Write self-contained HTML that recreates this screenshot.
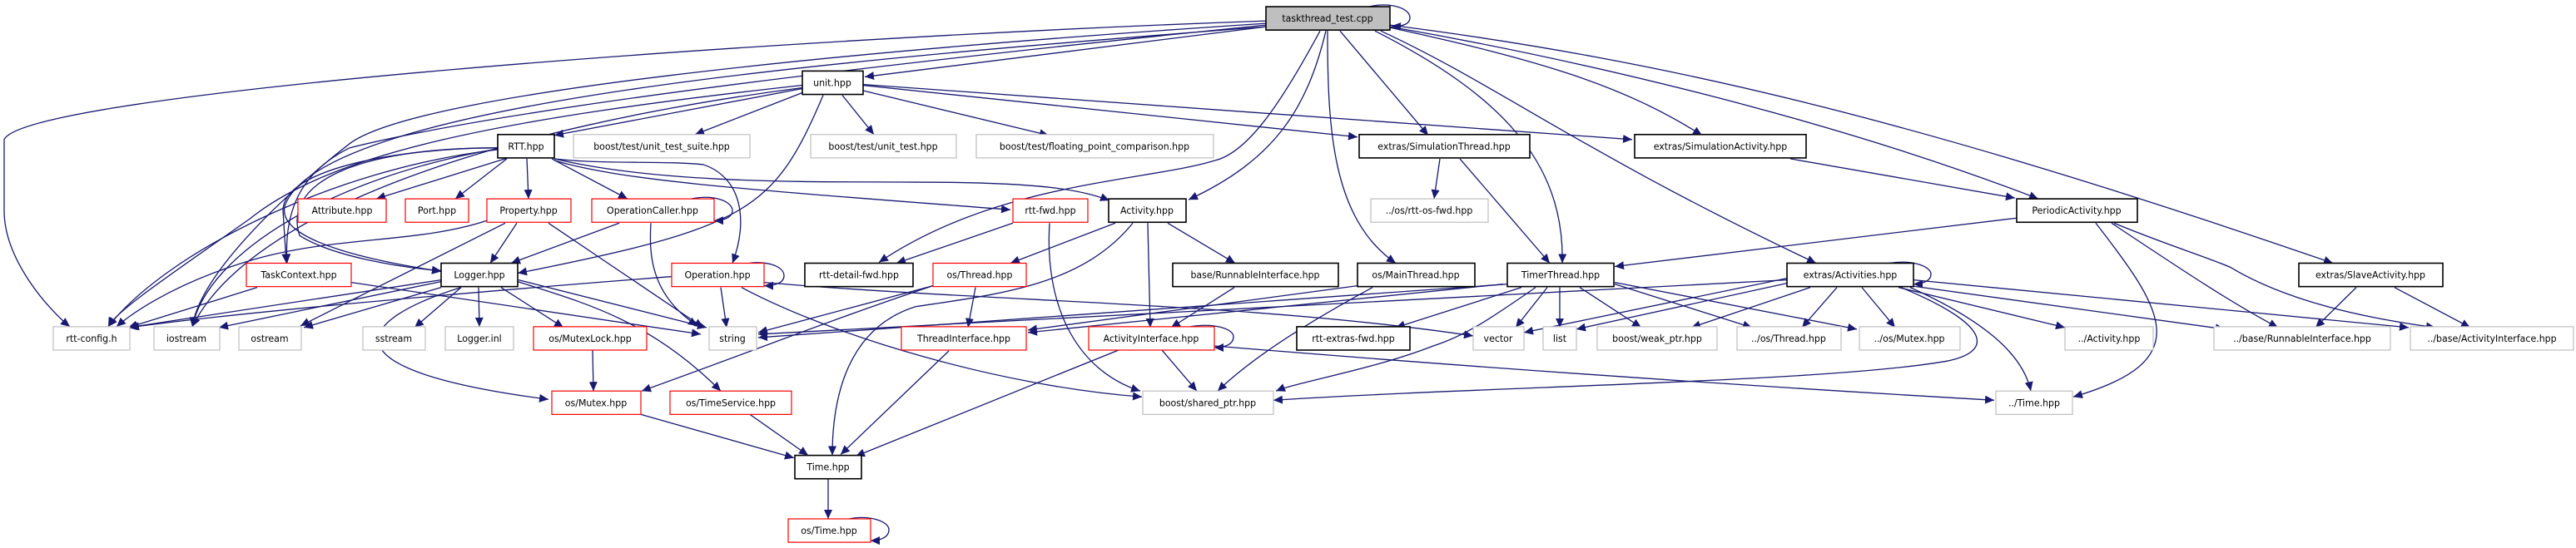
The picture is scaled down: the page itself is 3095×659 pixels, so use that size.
<!DOCTYPE html>
<html><head><meta charset="utf-8"><style>
html,body{margin:0;padding:0;background:#fff;}
svg{display:block;}
text{font-family:"DejaVu Sans","Liberation Sans",sans-serif;font-size:11px;fill:#000;text-anchor:middle;}
.e{fill:none;stroke:#191970;stroke-width:1.3;marker-end:url(#a);}
.b{fill:#fff;stroke:#000;stroke-width:1.6;}
.r{fill:#fff;stroke:#ff0000;stroke-width:1.2;}
.g{fill:#fff;stroke:#bfbfbf;stroke-width:1.2;}
</style></head><body>
<svg width="3095" height="659" viewBox="0 0 3095 659" xmlns="http://www.w3.org/2000/svg">
<defs><marker id="a" markerUnits="userSpaceOnUse" markerWidth="12" markerHeight="10" refX="11" refY="5" orient="auto"><path d="M0,0 L11,5 L0,10 z" fill="#191970"/></marker></defs>
<g transform="translate(0,2) scale(1,1.0048)">
<!-- edges -->
<path class="e" d="M1645,6 C1670,0 1694,8 1694,19 C1694,27 1685,30 1672,29"/>
<path class="e" d="M1521,30 L1039,90"/>
<path class="e" d="M1521,23 C900,45 30,110 5,165 L5,250 C5,310 60,370 84,389"/>
<path class="e" d="M1521,26 C1000,60 500,110 420,170 C330,240 240,330 231,389"/>
<path class="e" d="M1521,30 C1000,70 400,120 344,240 C320,290 480,315 530,323"/>
<path class="e" d="M1521,28 C1000,80 600,130 420,175 C370,200 340,240 345,313"/>
<path class="e" d="M1586,35 C1540,120 1500,180 1460,190 C1380,215 1200,215 1056,312"/>
<path class="e" d="M1593,35 C1570,130 1530,190 1428,237"/>
<path class="e" d="M1595,35 C1595,150 1600,260 1677,313"/>
<path class="e" d="M1610,35 L1716,160"/>
<path class="e" d="M1652,35 C1800,110 1880,190 1877,313"/>
<path class="e" d="M1659,35 C1800,100 1900,180 2182,313"/>
<path class="e" d="M1670,31 C1850,70 1950,100 2045,160"/>
<path class="e" d="M1670,30 C1900,70 2200,140 2449,236"/>
<path class="e" d="M1670,28 C2000,70 2300,140 2803,313"/>
<!-- unit -->
<path class="e" d="M964,104 L666,160"/>
<path class="e" d="M964,109 L835,159"/>
<path class="e" d="M1012,112 L1050,159"/>
<path class="e" d="M1035,106 L1260,160"/>
<path class="e" d="M1036,100 L1631,162"/>
<path class="e" d="M1036,99 L1961,165"/>
<path class="e" d="M964,100 C600,140 400,180 300,260 C200,330 140,370 130,389"/>
<path class="e" d="M964,103 C600,150 300,250 231,389"/>
<path class="e" d="M989,112 C930,250 900,270 622,325"/>
<!-- RTT -->
<path class="e" d="M610,187 L452,236"/>
<path class="e" d="M609,188 L547,236"/>
<path class="e" d="M633,188 L635,236"/>
<path class="e" d="M663,188 L754,236"/>
<path class="e" d="M598,177 C400,200 200,300 130,389"/>
<path class="e" d="M598,176 C400,210 250,300 231,389"/>
<path class="e" d="M598,175 C480,175 340,200 340,250 L344,313"/>
<path class="e" d="M598,175 C420,175 340,220 360,280 C400,305 480,318 530,322"/>
<path class="e" d="M666,188 C720,195 800,190 845,195 C890,210 900,260 880,313"/>
<path class="e" d="M666,190 C750,215 900,225 1214,249"/>
<path class="e" d="M666,188 C800,220 1000,215 1100,216 C1250,216 1300,225 1333,238"/>
<!-- Property -->
<path class="e" d="M621,265 L589,313"/>
<path class="e" d="M659,265 L845,390"/>
<path class="e" d="M585,262 C500,290 400,280 300,310 C200,340 150,380 140,389"/>
<path class="e" d="M607,265 L361,388"/>
<!-- OperationCaller -->
<path class="e" d="M830,236 C860,230 880,240 880,250 C880,258 870,262 858,262"/>
<path class="e" d="M744,265 L614,313"/>
<path class="e" d="M782,265 C780,300 780,350 838,388"/>
<!-- TaskContext -->
<path class="e" d="M309,342 L154,390"/>
<path class="e" d="M422,336 L842,398"/>
<!-- Logger -->
<path class="e" d="M530,333 L154,390"/>
<path class="e" d="M530,335 L263,390"/>
<path class="e" d="M530,342 L365,390"/>
<path class="e" d="M554,342 L498,390"/>
<path class="e" d="M575,342 L576,389"/>
<path class="e" d="M602,342 L677,390"/>
<path class="e" d="M623,333 L849,390"/>
<path class="e" d="M622,335 C700,360 780,380 866,466"/>
<path class="e" d="M554,342 C430,380 380,440 659,476"/>
<!-- Operation -->
<path class="e" d="M900,313 C925,310 942,318 942,328 C942,336 932,340 918,340"/>
<path class="e" d="M866,342 L873,390"/>
<path class="e" d="M807,329 C600,345 300,370 156,390"/>
<path class="e" d="M891,342 C1000,400 1200,460 1372,473"/>
<path class="e" d="M918,336 C1200,360 1500,360 1770,400"/>
<!-- rtt-fwd -->
<path class="e" d="M1217,265 L1077,313"/>
<path class="e" d="M1261,265 C1255,360 1290,440 1370,466"/>
<!-- Activity -->
<path class="e" d="M1340,265 L1214,313"/>
<path class="e" d="M1403,265 L1484,313"/>
<path class="e" d="M1379,265 L1382,390"/>
<path class="e" d="M1361,265 C1300,340 1200,350 1100,365 C1020,390 1000,470 1000,543"/>
<!-- os/Thread -->
<path class="e" d="M1172,342 L1163,390"/>
<path class="e" d="M1121,340 L911,396"/>
<path class="e" d="M1121,340 C1000,380 900,420 771,466"/>
<!-- base/Runnable, MainThread -->
<path class="e" d="M1483,342 L1407,390"/>
<path class="e" d="M1631,340 L1235,393"/>
<path class="e" d="M1649,342 C1560,390 1500,430 1463,466"/>
<!-- TimerThread -->
<path class="e" d="M1812,338 L911,402"/>
<path class="e" d="M1828,342 L1677,390"/>
<path class="e" d="M1859,342 L1821,390"/>
<path class="e" d="M1874,342 L1874,390"/>
<path class="e" d="M1898,342 L1972,390"/>
<path class="e" d="M1845,342 C1790,380 1760,400 1722,412 C1650,440 1560,455 1533,466"/>
<path class="e" d="M1940,338 L2105,390"/>
<path class="e" d="M1940,336 L2231,392"/>
<path class="e" d="M1806,338 L1235,396"/>
<!-- Simulation -->
<path class="e" d="M1754,188 L1862,313"/>
<path class="e" d="M1730,188 L1723,236"/>
<path class="e" d="M2151,188 L2421,235"/>
<!-- Periodic -->
<path class="e" d="M2423,259 L1940,317"/>
<path class="e" d="M2537,265 C2620,320 2680,360 2737,390"/>
<path class="e" d="M2540,265 C2600,290 2650,305 2680,318 C2750,360 2850,380 2926,390"/>
<path class="e" d="M2518,265 C2600,370 2640,430 2491,473"/>
<!-- Slave -->
<path class="e" d="M2831,342 L2782,390"/>
<path class="e" d="M2877,342 L2968,390"/>
<!-- Activities -->
<path class="e" d="M2270,313 C2300,308 2320,318 2320,326 C2320,334 2310,338 2299,338"/>
<path class="e" d="M2207,342 L2165,390"/>
<path class="e" d="M2237,342 L2277,390"/>
<path class="e" d="M2175,342 L2032,390"/>
<path class="e" d="M2281,342 L2481,390"/>
<path class="e" d="M2295,340 L2673,392"/>
<path class="e" d="M2299,333 L2894,390"/>
<path class="e" d="M2295,342 C2380,380 2430,420 2440,466"/>
<path class="e" d="M2284,342 C2400,390 2390,420 2340,430 C2200,455 1800,460 1530,477"/>
<path class="e" d="M2147,331 L1831,396"/>
<path class="e" d="M2147,337 L1894,392"/>
<path class="e" d="M2147,333 L911,398"/>
<!-- ActivityInterface etc -->
<path class="e" d="M1430,389 C1460,384 1482,392 1482,401 C1482,410 1472,414 1459,414"/>
<path class="e" d="M1396,417 L1438,466"/>
<path class="e" d="M1344,417 L1028,544"/>
<path class="e" d="M1459,412 C1800,440 2100,460 2396,477"/>
<path class="e" d="M1140,418 L1010,542"/>
<path class="e" d="M770,494 L954,546"/>
<path class="e" d="M901,494 L971,543"/>
<path class="e" d="M995,571 L995,619"/>
<path class="e" d="M712,417 L713,466"/>
<path class="e" d="M1020,619 C1045,614 1068,622 1068,632 C1068,641 1058,645 1046,645"/>
<!-- nodes -->
<rect x="1521" y="6" width="149" height="28" fill="#bfbfbf" stroke="#000" stroke-width="1.6"/><text x="1595" y="24">taskthread_test.cpp</text>
<rect class="b" x="964" y="83" width="73" height="28"/><text x="1000" y="101">unit.hpp</text>
<rect class="b" x="598" y="159" width="68" height="28"/><text x="632" y="177">RTT.hpp</text>
<rect class="g" x="689" y="159" width="212" height="28"/><text x="795" y="177">boost/test/unit_test_suite.hpp</text>
<rect class="g" x="974" y="159" width="175" height="28"/><text x="1061" y="177">boost/test/unit_test.hpp</text>
<rect class="g" x="1173" y="159" width="285" height="28"/><text x="1315" y="177">boost/test/floating_point_comparison.hpp</text>
<rect class="b" x="1633" y="159" width="205" height="28"/><text x="1735" y="177">extras/SimulationThread.hpp</text>
<rect class="b" x="1964" y="159" width="206" height="28"/><text x="2067" y="177">extras/SimulationActivity.hpp</text>
<rect class="r" x="358" y="236" width="106" height="28"/><text x="411" y="254">Attribute.hpp</text>
<rect class="r" x="487" y="236" width="76" height="28"/><text x="525" y="254">Port.hpp</text>
<rect class="r" x="585" y="236" width="101" height="28"/><text x="635" y="254">Property.hpp</text>
<rect class="r" x="711" y="236" width="147" height="28"/><text x="784" y="254">OperationCaller.hpp</text>
<rect class="r" x="1217" y="236" width="90" height="28"/><text x="1262" y="254">rtt-fwd.hpp</text>
<rect class="b" x="1332" y="236" width="93" height="28"/><text x="1378" y="254">Activity.hpp</text>
<rect class="g" x="1647" y="236" width="141" height="28"/><text x="1717" y="254">../os/rtt-os-fwd.hpp</text>
<rect class="b" x="2423" y="236" width="145" height="28"/><text x="2495" y="254">PeriodicActivity.hpp</text>
<rect class="r" x="296" y="313" width="126" height="28"/><text x="359" y="331">TaskContext.hpp</text>
<rect class="b" x="530" y="313" width="92" height="28"/><text x="576" y="331">Logger.hpp</text>
<rect class="r" x="807" y="313" width="111" height="28"/><text x="862" y="331">Operation.hpp</text>
<rect class="b" x="967" y="313" width="130" height="28"/><text x="1032" y="331">rtt-detail-fwd.hpp</text>
<rect class="r" x="1121" y="313" width="112" height="28"/><text x="1177" y="331">os/Thread.hpp</text>
<rect class="b" x="1409" y="313" width="199" height="28"/><text x="1508" y="331">base/RunnableInterface.hpp</text>
<rect class="b" x="1631" y="313" width="141" height="28"/><text x="1701" y="331">os/MainThread.hpp</text>
<rect class="b" x="1811" y="313" width="128" height="28"/><text x="1875" y="331">TimerThread.hpp</text>
<rect class="b" x="2147" y="313" width="152" height="28"/><text x="2223" y="331">extras/Activities.hpp</text>
<rect class="b" x="2762" y="313" width="173" height="28"/><text x="2848" y="331">extras/SlaveActivity.hpp</text>
<rect class="g" x="64" y="389" width="92" height="28"/><text x="110" y="407">rtt-config.h</text>
<rect class="g" x="185" y="389" width="79" height="28"/><text x="224" y="407">iostream</text>
<rect class="g" x="287" y="389" width="75" height="28"/><text x="324" y="407">ostream</text>
<rect class="g" x="436" y="389" width="75" height="28"/><text x="473" y="407">sstream</text>
<rect class="g" x="535" y="389" width="82" height="28"/><text x="576" y="407">Logger.inl</text>
<rect class="r" x="641" y="389" width="136" height="28"/><text x="709" y="407">os/MutexLock.hpp</text>
<rect class="g" x="852" y="389" width="57" height="28"/><text x="880" y="407">string</text>
<rect class="r" x="1083" y="389" width="150" height="28"/><text x="1158" y="407">ThreadInterface.hpp</text>
<rect class="r" x="1308" y="389" width="151" height="28"/><text x="1383" y="407">ActivityInterface.hpp</text>
<rect class="b" x="1558" y="389" width="136" height="28"/><text x="1626" y="407">rtt-extras-fwd.hpp</text>
<rect class="g" x="1770" y="389" width="61" height="28"/><text x="1800" y="407">vector</text>
<rect class="g" x="1854" y="389" width="40" height="28"/><text x="1874" y="407">list</text>
<rect class="g" x="1919" y="389" width="144" height="28"/><text x="1991" y="407">boost/weak_ptr.hpp</text>
<rect class="g" x="2087" y="389" width="125" height="28"/><text x="2149" y="407">../os/Thread.hpp</text>
<rect class="g" x="2234" y="389" width="121" height="28"/><text x="2294" y="407">../os/Mutex.hpp</text>
<rect class="g" x="2481" y="389" width="106" height="28"/><text x="2534" y="407">../Activity.hpp</text>
<rect class="g" x="2660" y="389" width="212" height="28"/><text x="2766" y="407">../base/RunnableInterface.hpp</text>
<rect class="g" x="2896" y="389" width="196" height="28"/><text x="2994" y="407">../base/ActivityInterface.hpp</text>
<rect class="r" x="663" y="466" width="107" height="28"/><text x="716" y="484">os/Mutex.hpp</text>
<rect class="r" x="805" y="466" width="146" height="28"/><text x="878" y="484">os/TimeService.hpp</text>
<rect class="g" x="1373" y="466" width="157" height="28"/><text x="1451" y="484">boost/shared_ptr.hpp</text>
<rect class="g" x="2398" y="466" width="92" height="28"/><text x="2444" y="484">../Time.hpp</text>
<rect class="b" x="955" y="543" width="80" height="28"/><text x="995" y="561">Time.hpp</text>
<rect class="r" x="947" y="619" width="99" height="28"/><text x="996" y="637">os/Time.hpp</text>
</g>
</svg>
</body></html>
